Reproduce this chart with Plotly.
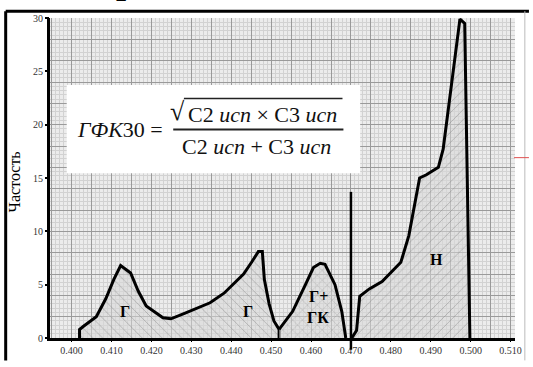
import plotly.graph_objects as go

# ---- data ----
g_x = [0.4020, 0.4020, 0.4030, 0.4062, 0.4086, 0.4106, 0.4123, 0.4148, 0.4167, 0.4187,
       0.4229, 0.4249, 0.4283, 0.4315, 0.4347, 0.4382, 0.4431, 0.4451, 0.4468, 0.4478,
       0.4483, 0.4495, 0.4507, 0.4520, 0.4520]
g_y = [0.0, 0.8, 1.1, 2.0, 3.7, 5.5, 6.8, 6.1, 4.4, 3.0,
       1.9, 1.8, 2.3, 2.8, 3.3, 4.2, 6.0, 7.1, 8.1, 8.1,
       5.5, 3.2, 1.6, 0.8, 0.0]

ggk_x = [0.4520, 0.4554, 0.4586, 0.4606, 0.4623, 0.4635, 0.4660, 0.4677, 0.4687]
ggk_y = [0.8, 2.5, 5.0, 6.6, 7.0, 6.9, 5.0, 2.5, 0.0]

n_x = [0.4702, 0.4714, 0.4722, 0.4746, 0.4778, 0.4825, 0.4845, 0.4862, 0.4872,
       0.4889, 0.4919, 0.4931, 0.4973, 0.4985, 0.4998]
n_y = [0.0, 0.7, 3.9, 4.6, 5.3, 7.1, 9.6, 13.0, 15.0,
       15.3, 16.0, 17.7, 29.9, 29.5, 0.0]

divider_x = 0.470
divider_y = [-1.1, 13.7]

x_ticks = [0.400, 0.410, 0.420, 0.430, 0.440, 0.450, 0.460, 0.470, 0.480, 0.490, 0.500, 0.510]
y_ticks = [0, 5, 10, 15, 20, 25, 30]

region_labels = ["Г", "Г", "Г+", "ГК", "Н"]
region_lx = [0.4135, 0.4443, 0.4618, 0.4618, 0.4914]
region_ly = [2.5, 2.5, 3.9, 1.9, 7.4]

X_RANGE = [0.3946, 0.5111]
Y_RANGE = [0, 30]

SERIF = "Liberation Serif, Times New Roman, serif"

fig = go.Figure()

pat_bg = "rgba(215,215,215,0.55)"
pat_fg = "#7d7d7d"

fig.add_trace(go.Scatter(
    x=g_x, y=g_y, mode="lines", fill="tozeroy",
    line=dict(color="black", width=3),
    fillcolor=pat_bg,
    fillpattern=dict(shape="\\", fgcolor=pat_fg, bgcolor=pat_bg, size=7, solidity=0.12),
    showlegend=False, hoverinfo="skip"))

fig.add_trace(go.Scatter(
    x=ggk_x, y=ggk_y, mode="lines", fill="tozeroy",
    line=dict(color="black", width=3),
    fillcolor=pat_bg,
    fillpattern=dict(shape="x", fgcolor=pat_fg, bgcolor=pat_bg, size=7, solidity=0.12),
    showlegend=False, hoverinfo="skip"))

fig.add_trace(go.Scatter(
    x=n_x, y=n_y, mode="lines", fill="tozeroy",
    line=dict(color="black", width=3),
    fillcolor=pat_bg,
    fillpattern=dict(shape="/", fgcolor=pat_fg, bgcolor=pat_bg, size=7, solidity=0.12),
    showlegend=False, hoverinfo="skip"))

# empty trace so the labelled overlay axes are drawn
fig.add_trace(go.Scatter(x=[], y=[], xaxis="x2", yaxis="y2", showlegend=False))

for t, lx, ly in zip(region_labels, region_lx, region_ly):
    fig.add_annotation(x=lx, y=ly, text="<b>%s</b>" % t, showarrow=False,
                       xanchor="center", yanchor="middle",
                       font=dict(family=SERIF, size=16, color="black"))


def py(v):
    return (v - Y_RANGE[0]) / (Y_RANGE[1] - Y_RANGE[0])


shapes = []
# divider line at 0.470
shapes.append(dict(type="line", xref="x", yref="paper", x0=divider_x, x1=divider_x,
                   y0=py(divider_y[0]), y1=py(divider_y[1]),
                   line=dict(color="black", width=2.5), layer="above"))
# formula box
shapes.append(dict(type="rect", xref="paper", yref="paper", x0=0.036, x1=0.667,
                   y0=0.515, y1=0.791, fillcolor="white", line=dict(width=0), layer="above"))
# fraction bar
shapes.append(dict(type="line", xref="paper", yref="paper", x0=0.265, x1=0.631,
                   y0=0.6515, y1=0.6515, line=dict(color="#222", width=2), layer="above"))
# radical overline
shapes.append(dict(type="line", xref="paper", yref="paper", x0=0.288, x1=0.629,
                   y0=0.7485, y1=0.7485, line=dict(color="#222", width=1.5), layer="above"))
# outer frame (top and left)
shapes.append(dict(type="line", xref="paper", yref="paper", x0=-0.0953, x1=1.03,
                   y0=1.0212, y1=1.0212, line=dict(color="black", width=3)))
shapes.append(dict(type="line", xref="paper", yref="paper", x0=-0.0953, x1=-0.0953,
                   y0=1.0212, y1=-0.07, line=dict(color="black", width=3)))
# right thin line and red mark
shapes.append(dict(type="line", xref="paper", yref="paper", x0=1.0212, x1=1.0212,
                   y0=1.0212, y1=-0.07, line=dict(color="#bbbbbb", width=1)))
shapes.append(dict(type="line", xref="paper", yref="paper", x0=0.998, x1=1.03,
                   y0=0.5636, y1=0.5636, line=dict(color="#e05050", width=1)))

fig.update_layout(shapes=shapes)

C = dict(xref="paper", yref="paper", showarrow=False, xanchor="center", yanchor="middle")

# formula text
fig.add_annotation(x=0.1504, y=0.6515, text="<i>ГФК</i>30 =",
                   font=dict(family=SERIF, size=22, color="#111"), **C)
fig.add_annotation(x=0.2745, y=0.708, text="√",
                   font=dict(family=SERIF, size=26, color="#111"), **C)
fig.add_annotation(x=0.4576, y=0.700, text="С2 <i>исп</i> × С3 <i>исп</i>",
                   font=dict(family=SERIF, size=22, color="#111"), **C)
fig.add_annotation(x=0.4449, y=0.597, text="С2 <i>исп</i> + С3 <i>исп</i>",
                   font=dict(family=SERIF, size=22, color="#111"), **C)

# y title
fig.add_annotation(x=-0.076, y=0.488, text="Частость", textangle=-90,
                   font=dict(family=SERIF, size=16, color="black"), **C)

# fragment of a heading above the frame
fig.add_annotation(x=0.163, y=1.116, text="<b>р</b>",
                   font=dict(family=SERIF, size=36, color="black"), **C)

fig.update_layout(
    width=533, height=367,
    margin=dict(l=50, r=11, t=18, b=19),
    paper_bgcolor="white",
    plot_bgcolor="#ececec",
    xaxis=dict(range=X_RANGE, dtick=0.005, tick0=0.4, showgrid=True, gridcolor="#9a9a9a",
               gridwidth=1, showticklabels=False, ticks="", zeroline=False,
               showline=True, linecolor="black", linewidth=3,
               minor=dict(dtick=0.001, showgrid=True, gridcolor="#d2d2d2", gridwidth=0.6, ticks="")),
    yaxis=dict(range=Y_RANGE, dtick=2, tick0=0, showgrid=True, gridcolor="#9a9a9a",
               gridwidth=1, showticklabels=False, ticks="", zeroline=False,
               showline=True, linecolor="black", linewidth=3,
               minor=dict(dtick=0.4, showgrid=True, gridcolor="#d2d2d2", gridwidth=0.6, ticks="")),
    xaxis2=dict(range=X_RANGE, overlaying="x", anchor="y", side="bottom",
                tickvals=x_ticks, ticktext=["%.3f" % v for v in x_ticks],
                ticks="outside", ticklen=3, tickcolor="black", tickwidth=1,
                showgrid=False, zeroline=False, showline=False,
                tickfont=dict(family=SERIF, size=10, color="#333")),
    yaxis2=dict(range=Y_RANGE, overlaying="y", anchor="x", side="left",
                tickvals=y_ticks, ticks="outside", ticklen=4, tickcolor="black", tickwidth=1.5,
                showgrid=False, zeroline=False, showline=False,
                tickfont=dict(family=SERIF, size=10, color="#333")),
)

fig.write_html("out.html")
